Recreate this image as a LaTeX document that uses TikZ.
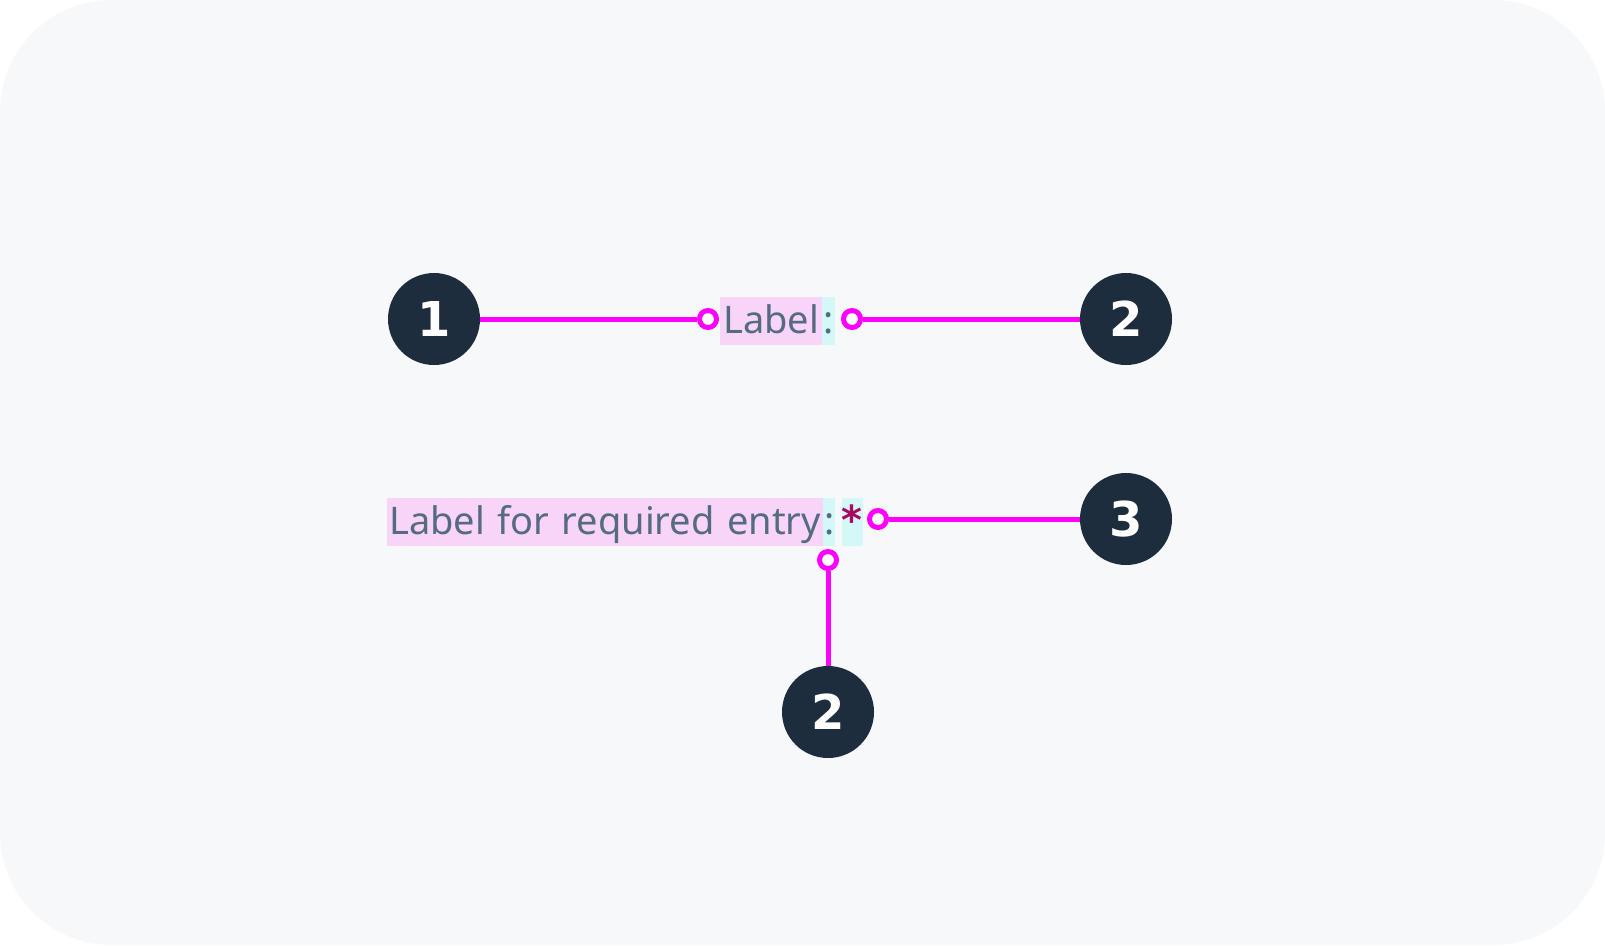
\documentclass[tikz,border=0pt]{standalone}
\usepackage{fontspec}
\setmainfont{Noto Sans}
\newfontfamily\labelfont{Noto Sans}[WordSpace=1.27]
\newfontfamily\numfont{DejaVu Sans}
\usetikzlibrary{positioning}

\definecolor{bgcol}{HTML}{F7F8FA}
\definecolor{bulletcol}{HTML}{1D2D3E}
\definecolor{linecol}{HTML}{FF00FF}
\definecolor{textcol}{HTML}{556B82}
\definecolor{pinkhl}{HTML}{F8D4F8}
\definecolor{cyanhl}{HTML}{D4F8F8}
\definecolor{starcol}{HTML}{AA0860}

\tikzset{
    bullet/.style={circle, fill=bulletcol, text=white, minimum size=92pt, inner sep=0pt,
        font=\numfont\fontsize{48}{48}\selectfont\bfseries},
    ring/.style={circle, draw=linecol, fill=white, line width=5pt, minimum size=17pt, inner sep=0pt},
    conn/.style={linecol, line width=5pt},
    hl/.style={inner xsep=2pt, inner ysep=0pt, text height=36pt, text depth=12pt,
        text=textcol, font=\labelfont\fontsize{38}{38}\selectfont}
}

\begin{document}
\begin{tikzpicture}[x=1pt, y=-1pt]
    % Background
    \useasboundingbox (0,0) rectangle (1605,945);
    \fill[white] (0,0) rectangle (1605,945);
    \fill[bgcol, rounded corners=112pt] (0,0) rectangle (1605,945);

    % Short label
    \node[hl, fill=pinkhl, anchor=base west, inner xsep=3pt] (lblA) at (720,333) {Label};
    \node[hl, fill=cyanhl, anchor=base west, inner xsep=1pt] (colA) at (lblA.base east) {:};

    % Required label
    \node[hl, fill=pinkhl, anchor=base west] (lblB) at (387,534) {Label for required entry};
    \node[hl, fill=cyanhl, anchor=base west, inner xsep=1pt] (colB) at (lblB.base east) {:};
    \node[hl, fill=cyanhl, text=starcol, anchor=base west, minimum width=21pt, inner xsep=0pt,
        font=\numfont\fontsize{40}{40}\selectfont\bfseries] (star) at ([xshift=6pt]colB.base east) {*};

    % Markers
    \node[bullet] (numA) at (434,319) {1};
    \node[bullet] (numB) at (1126,319) {2};
    \node[bullet] (numC) at (1126,519) {3};
    \node[bullet] (numD) at (828,712) {2};

    % Rings
    \node[ring] (ringA) at (708,319) {};
    \node[ring] (ringB) at (852,319) {};
    \node[ring] (ringC) at (878,519) {};
    \node[ring] (ringD) at (828,560) {};

    % Connectors
    \draw[conn] (numA) -- (ringA);
    \draw[conn] (numB) -- (ringB);
    \draw[conn] (numC) -- (ringC);
    \draw[conn] (numD) -- (ringD);
\end{tikzpicture}
\end{document}
